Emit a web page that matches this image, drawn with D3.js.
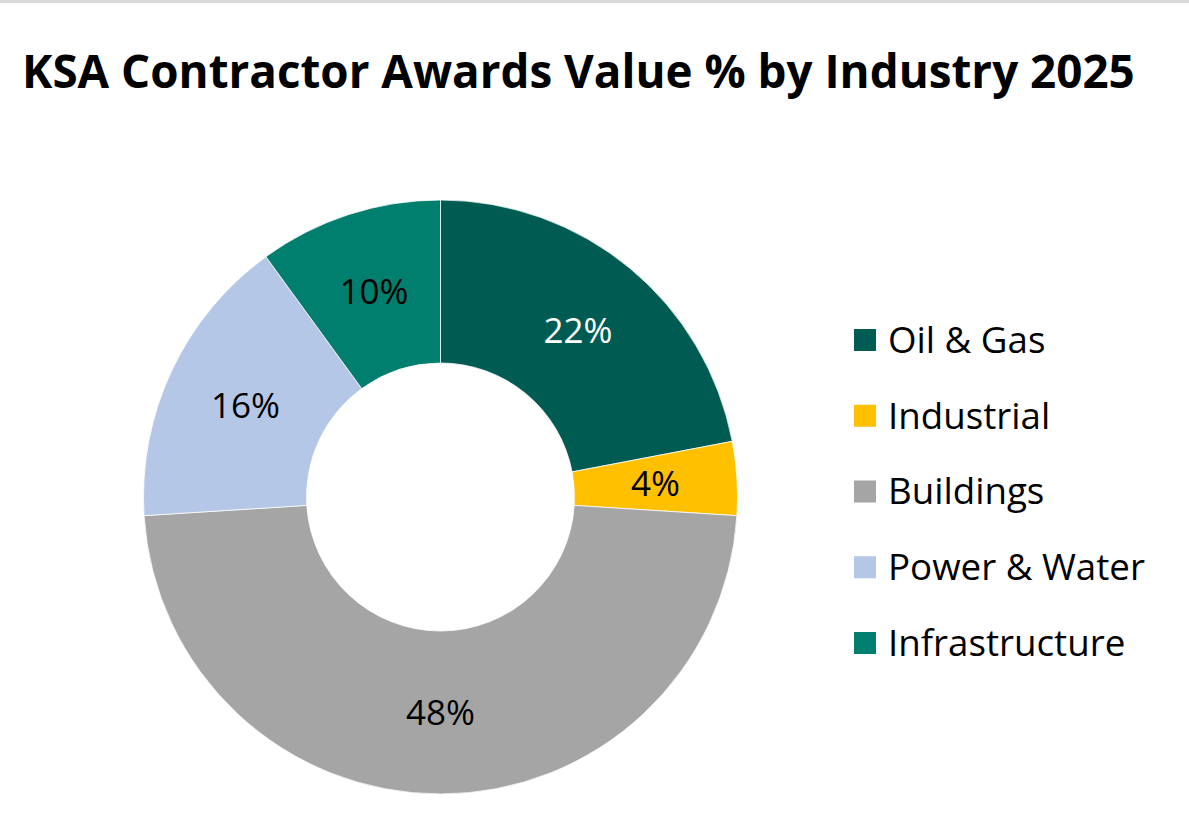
<!DOCTYPE html>
<html><head><meta charset="utf-8">
<script src="https://cdn.jsdelivr.net/npm/d3@7"></script>
<style>body{margin:0;background:#fff;} svg{display:block;}</style>
</head><body>
<svg id="chart" width="1189" height="816"></svg>
<script>
const title = "KSA Contractor Awards Value % by Industry 2025";
const categories = ["Oil & Gas", "Industrial", "Buildings", "Power & Water", "Infrastructure"];
const values = [22, 4, 48, 16, 10];
const colors = ["#005C53", "#FFC000", "#A5A5A5", "#B4C7E7", "#007E6E"];
const labelColors = ["#ffffff", "#000000", "#000000", "#000000", "#000000"];

const FONT = "'Open Sans', 'Liberation Sans', sans-serif";
const svg = d3.select("#chart");
svg.append("rect").attr("x",0).attr("y",0).attr("width",1189).attr("height",3).attr("fill","#d9d9d9");

function fit(sel, target) {
  const w = sel.node().getComputedTextLength();
  const fs = parseFloat(sel.attr("font-size"));
  sel.attr("font-size", fs * target / w);
  return fs * target / w;
}

const t = svg.append("text").attr("x", 22).attr("y", 88)
  .attr("font-family", FONT).attr("font-weight", "bold").attr("font-size", 50)
  .attr("fill", "#000").text(title);
fit(t, 1113);

const cx = 440.5, cy = 497, R = 297, r = 134;
const pie = d3.pie().sort(null).value(d => d);
const arcs = pie(values);
const arc = d3.arc().innerRadius(r).outerRadius(R);
const g = svg.append("g").attr("transform", `translate(${cx},${cy})`);
g.selectAll("path").data(arcs).join("path")
  .attr("d", arc).attr("fill", (d,i) => colors[i])
  .attr("stroke", "#ffffff").attr("stroke-width", 0.75);

// measure label font size
const probe = svg.append("text").attr("font-family", FONT).attr("font-size", 36).text("22%");
const labelFs = fit(probe, 69);
probe.remove();

g.selectAll("text.lbl").data(arcs).join("text").attr("class","lbl")
  .attr("transform", d => { const c = arc.centroid(d); return `translate(${c[0]},${c[1]})`; })
  .attr("text-anchor", "middle").attr("dy", "0.35em")
  .attr("font-family", FONT).attr("font-size", labelFs)
  .attr("fill", (d,i) => labelColors[i])
  .text(d => d.data + "%");

// legend
const probe2 = svg.append("text").attr("font-family", FONT).attr("font-size", 32).text("Power & Water");
const legFs = fit(probe2, 257);
probe2.remove();

const legY = d3.scalePoint().domain(categories).range([340, 643]);
const lg = svg.append("g");
const items = lg.selectAll("g").data(categories).join("g")
  .attr("transform", d => `translate(854,${legY(d)})`);
items.append("rect").attr("x", 0).attr("y", -11).attr("width", 22).attr("height", 22)
  .attr("fill", (d,i) => colors[i]);
items.append("text").attr("x", 34).attr("y", 0).attr("dy", "0.35em")
  .attr("font-family", FONT).attr("font-size", legFs).attr("fill", "#000")
  .text(d => d);
</script>
</body></html>
